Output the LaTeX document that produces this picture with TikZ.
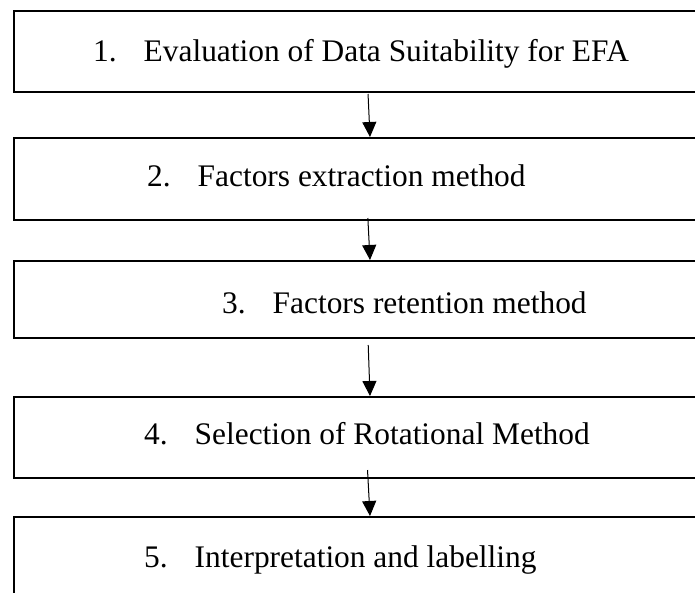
\documentclass[tikz,border=0pt]{standalone}
\usepackage{fontspec}
\setmainfont{Liberation Serif}
\usetikzlibrary{arrows.meta}
% numbered step text: number, tab gap, then the description
\newcommand\steptext[2]{#1.\hspace{27pt}#2}
\begin{document}
\begin{tikzpicture}[x=1pt,y=-1pt,
  stepbox/.style={draw, line width=2pt, rectangle, inner sep=0pt,
    anchor=north west, minimum width=707pt},
  steplabel/.style={anchor=base west, inner sep=0pt,
    font=\fontsize{31.4}{36}\selectfont},
  flow/.style={line width=1pt, -{Triangle[length=15pt,width=14pt]}}]
\useasboundingbox (0,0) rectangle (695,592);
\clip (0,0) rectangle (695,592);

% step boxes (they run past the right edge of the page)
\node[stepbox, minimum height=81pt] (b1) at (13,10)  {};
\node[stepbox, minimum height=82pt] (b2) at (13,137) {};
\node[stepbox, minimum height=77pt] (b3) at (13,260) {};
\node[stepbox, minimum height=81pt] (b4) at (13,396) {};
\node[stepbox, minimum height=85pt] (b5) at (13,516) {};

% step labels
\node[steplabel] (t1) at (93,61.7)  {\steptext{1}{Evaluation of Data Suitability for EFA}};
\node[steplabel] (t2) at (147,186.7) {\steptext{2}{Factors extraction method}};
\node[steplabel] (t3) at (222,313)  {\steptext{3}{Factors retention method}};
\node[steplabel] (t4) at (144,444)  {\steptext{4}{Selection of Rotational Method}};
\node[steplabel] (t5) at (144,567)  {\steptext{5}{Interpretation and labelling}};

% connector columns
\coordinate (at) at (368,0);
\coordinate (ab) at (370,0);

\draw[flow, shorten <=1pt]  (b1.south -| at) -- (b2.north -| ab);
\draw[flow, shorten <=-3pt] (b2.south -| at) -- (b3.north -| ab);
\draw[flow, shorten <=6pt]  (b3.south -| at) -- (b4.north -| ab);
\draw[flow, shorten <=-9pt] (b4.south -| at) -- (b5.north -| ab);
\end{tikzpicture}
\end{document}
